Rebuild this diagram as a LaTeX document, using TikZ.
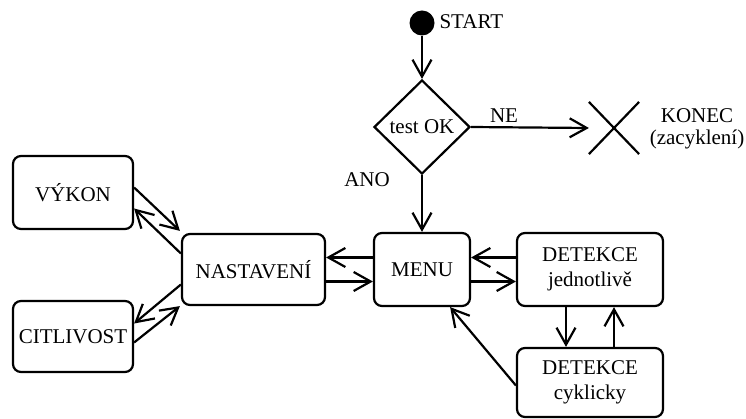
\documentclass[tikz,border=0pt]{standalone}
\usepackage{fontspec}
\setmainfont{Liberation Serif}
\newfontfamily\tmsfont{Liberation Serif}
\usetikzlibrary{arrows.meta,shapes.geometric,shapes.misc}
\tikzset{
  box/.style={draw, line width=2.2pt, rounded corners=8pt, align=center, inner sep=0pt},
  conn/.style={line width=2.2pt, -{Straight Barb[length=17pt,width=19pt,line width=2.2pt]}},
}
\begin{document}
\begin{tikzpicture}[x=1pt,y=-1pt,font=\tmsfont\fontsize{21}{25}\selectfont]
\useasboundingbox (0,0) rectangle (746,419);
% nodes
\node[circle, fill, minimum size=25pt, inner sep=0pt] (start) at (422,23) {};
\node[anchor=west] (starttxt) at (436,22) {START};
\node[draw, diamond, line width=2.2pt, minimum width=96pt, minimum height=94pt, inner sep=0pt] (test) at (422,127) {test OK};
\node[draw, cross out, line width=2.2pt, minimum width=48pt, minimum height=50pt, inner sep=0pt] (end) at (614,128) {};
\node[align=center] (endtxt) at (697,129) {KONEC\\[-3pt](zacyklení)};
\node (ne) at (504,116) {NE};
\node (ano) at (367,180) {ANO};
\node[box, minimum width=96pt, minimum height=73pt] (menu) at (422,269.5) {MENU};
\node[box, minimum width=143pt, minimum height=71pt] (nast) at (253.5,269.5) {NASTAVENÍ};
\node[box, minimum width=120pt, minimum height=73pt] (vykon) at (73,192.5) {VÝKON};
\node[box, minimum width=120pt, minimum height=71pt] (citl) at (73,336.5) {CITLIVOST};
\node[box, minimum width=146pt, minimum height=73pt] (det1) at (590,269.5) {DETEKCE\\jednotlivě};
\node[box, minimum width=146pt, minimum height=69pt] (det2) at (590,382.5) {DETEKCE\\cyklicky};
% connectors
\draw[conn] (start.south) -- (test.north);
\draw[conn] (test.east) -- (end.west);
\draw[conn] (test.south) -- (menu.north);
\draw[conn] ([yshift=12pt]det1.west) -- ([yshift=12pt]menu.east);
\draw[conn] ([yshift=-12pt]menu.east) -- ([yshift=-12pt]det1.west);
\draw[conn] ([yshift=12pt]menu.west) -- ([yshift=12pt]nast.east);
\draw[conn] ([yshift=-12pt]nast.east) -- ([yshift=-12pt]menu.west);
\draw[conn] ([xshift=-24pt]det1.south) -- ([xshift=-24pt]det2.north);
\draw[conn] ([xshift=24pt]det2.north) -- ([xshift=24pt]det1.south);
\draw[conn] ([yshift=-3pt]det2.west) -- ([xshift=-21pt]menu.south east);
\draw[conn] ([yshift=5pt]vykon.east) -- ([xshift=-1pt,yshift=2pt]nast.north west);
\draw[conn] ([yshift=16pt]nast.west) -- ([yshift=-16pt]vykon.east);
\draw[conn] ([yshift=-15pt]nast.west) -- ([yshift=13pt]citl.east);
\draw[conn] ([yshift=-6pt]citl.east) -- ([xshift=-1pt]nast.south west);
\end{tikzpicture}
\end{document}
